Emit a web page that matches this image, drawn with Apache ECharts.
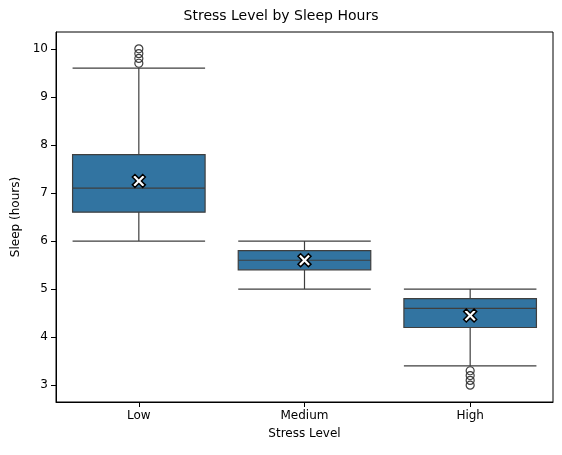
<!DOCTYPE html>
<html><head><meta charset="utf-8">
<script src="https://cdn.jsdelivr.net/npm/echarts@6/dist/echarts.min.js"></script>
<style>html,body{margin:0;background:#fff}#c{width:562px;height:455px}</style>
</head><body><div id="c"></div>
<script>
const categories = ['Low', 'Medium', 'High'];
// [lower whisker, Q1, median, Q3, upper whisker]
const boxStats = [
  [6.0, 6.6, 7.1, 7.8, 9.6],
  [5.0, 5.4, 5.6, 5.8, 6.0],
  [3.4, 4.2, 4.6, 4.8, 5.0]
];
const means = [7.25, 5.6, 4.45];
// [category index, value]
const outliers = [
  [0, 9.7], [0, 9.8], [0, 9.9], [0, 10.0],
  [2, 3.0], [2, 3.1], [2, 3.2], [2, 3.3]
];
const yTicks = [3, 4, 5, 6, 7, 8, 9, 10];

const font = 'DejaVu Sans';
const xMark = 'path://M2,0 L5,3 L8,0 L10,2 L7,5 L10,8 L8,10 L5,7 L2,10 L0,8 L3,5 L0,2 Z';
const chart = echarts.init(document.getElementById('c'));
chart.setOption({
  animation: false,
  title: { text: 'Stress Level by Sleep Hours', left: 'center', top: 4,
    textStyle: { fontFamily: font, fontSize: 14, fontWeight: 'normal', color: '#000' } },
  grid: { left: 56, right: 9, top: 32, bottom: 53, show: true, borderColor: '#000', borderWidth: 1 },
  xAxis: {
    type: 'category', data: categories, name: 'Stress Level', nameLocation: 'middle', nameGap: 26,
    nameTextStyle: { fontFamily: font, fontSize: 12, color: '#000' },
    axisLine: { show: true, lineStyle: { color: '#000' } },
    axisTick: { show: true, alignWithLabel: true, lineStyle: { color: '#000' } },
    axisLabel: { fontFamily: font, fontSize: 12, color: '#000' },
    splitLine: { show: false }
  },
  yAxis: {
    type: 'value', min: 2.65, max: 10.35, name: 'Sleep (hours)', nameLocation: 'middle', nameGap: 32,
    nameTextStyle: { fontFamily: font, fontSize: 12, color: '#000' },
    axisLine: { show: true, lineStyle: { color: '#000' } },
    axisTick: { show: true, lineStyle: { color: '#000' }, customValues: yTicks },
    axisLabel: { fontFamily: font, fontSize: 12, color: '#000', customValues: yTicks },
    splitLine: { show: false }
  },
  series: [
    { type: 'boxplot', data: boxStats, boxWidth: ['80%', '80%'],
      itemStyle: { color: '#3274a1', borderColor: '#3f3f3f', borderWidth: 1.2 } },
    { type: 'scatter', data: outliers, symbol: 'circle', symbolSize: 8,
      itemStyle: { color: 'rgba(255,255,255,0)', borderColor: '#3f3f3f', borderWidth: 1.2, opacity: 1 }, z: 5 },
    { type: 'scatter', data: means.map((m, i) => [i, m]), symbol: xMark, symbolSize: 13,
      itemStyle: { color: '#ffffff', borderColor: '#000', borderWidth: 1.5, opacity: 1 }, z: 6 }
  ]
});
</script></body></html>
